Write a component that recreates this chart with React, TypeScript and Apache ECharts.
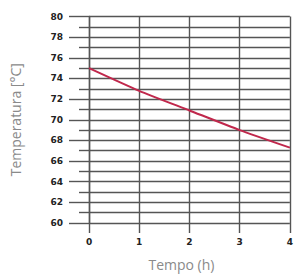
import React, { useEffect, useRef } from "react";
import * as echarts from "echarts";

const hours = [0, 1, 2, 3, 4];
const temperature = [75, 72.8, 70.9, 69.0, 67.3];
const yMin = 60;
const yMax = 80;

export default function App() {
  const ref = useRef<HTMLDivElement>(null);
  useEffect(() => {
    if (!ref.current) return;
    const chart = echarts.init(ref.current, undefined, { renderer: "svg" });
    const gridColor = "#555555";
    chart.setOption({
      animation: false,
      backgroundColor: "#ffffff",
      grid: { left: 87, right: 0, top: 16.5, bottom: 47.5 },
      xAxis: {
        type: "value",
        min: 0,
        max: 4,
        interval: 1,
        name: "Tempo (h)",
        nameLocation: "middle",
        nameGap: 34,
        nameTextStyle: {
          color: "#8a8a8a",
          fontSize: 14,
          fontFamily: "Open Sans",
          padding: [0, 16, 0, 0],
        },
        axisLine: { show: false },
        axisTick: { show: true, length: 10, lineStyle: { color: gridColor, width: 1.4 } },
        axisLabel: {
          margin: 14,
          color: "#222",
          fontSize: 9,
          fontWeight: "bold",
          fontFamily: "DejaVu Sans",
        },
        splitLine: { show: true, lineStyle: { color: gridColor, width: 1.4 } },
      },
      yAxis: {
        type: "value",
        min: yMin,
        max: yMax,
        interval: 2,
        name: "Temperatura [°C]",
        nameLocation: "middle",
        nameGap: 67,
        nameTextStyle: {
          color: "#8a8a8a",
          fontSize: 14,
          fontFamily: "Open Sans",
        },
        axisLine: { show: true, lineStyle: { color: gridColor, width: 1.4 } },
        axisTick: { show: true, length: 20, lineStyle: { color: gridColor, width: 1.4 } },
        minorTick: { show: true, splitNumber: 2, length: 10, lineStyle: { color: gridColor, width: 1.4 } },
        minorSplitLine: { show: true, lineStyle: { color: gridColor, width: 1.4 } },
        axisLabel: {
          margin: 26,
          color: "#222",
          fontSize: 9,
          fontWeight: "bold",
          fontFamily: "DejaVu Sans",
        },
        splitLine: { show: true, lineStyle: { color: gridColor, width: 1.4 } },
      },
      series: [
        {
          type: "line",
          data: hours.map((h, i) => [h, temperature[i]]),
          smooth: 0.2,
          showSymbol: false,
          lineStyle: { color: "#c0284c", width: 2 },
          z: 5,
        },
      ],
    });
    return () => chart.dispose();
  }, []);
  return (
    <div
      ref={ref}
      style={{ position: "absolute", left: 0, top: 0, width: 296, height: 276 }}
    />
  );
}
